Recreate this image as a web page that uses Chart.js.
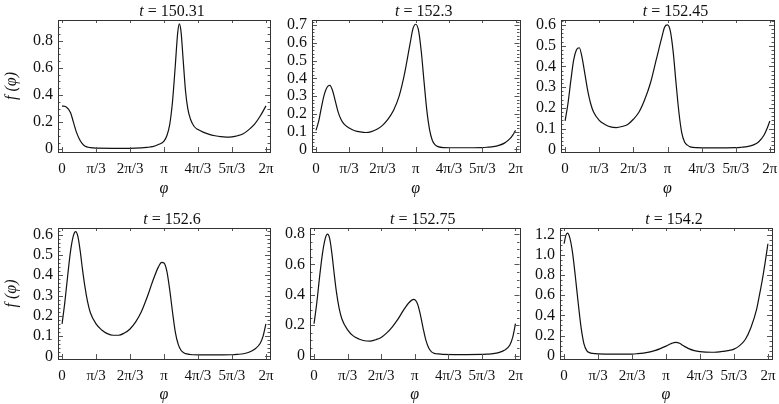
<!DOCTYPE html>
<html>
<head>
<meta charset="utf-8">
<script src="https://cdn.jsdelivr.net/npm/chart.js@4.4.1/dist/chart.umd.min.js"></script>
<style>
  body { margin: 0; background: #fff; }
  .panel { position: absolute; }
</style>
</head>
<body>
<div class="panel" style="left:0;top:0"><canvas id="p1" width="280" height="200"></canvas></div>
<div class="panel" style="left:272px;top:0"><canvas id="p2" width="258" height="200"></canvas></div>
<div class="panel" style="left:522px;top:0"><canvas id="p3" width="257" height="200"></canvas></div>
<div class="panel" style="left:0;top:200px"><canvas id="p4" width="280" height="204"></canvas></div>
<div class="panel" style="left:272px;top:200px"><canvas id="p5" width="258" height="204"></canvas></div>
<div class="panel" style="left:522px;top:200px"><canvas id="p6" width="257" height="204"></canvas></div>
<script>
// angle φ in degrees (0..360 = 0..2π)
const xTickValues = [0, 60, 120, 180, 240, 300, 360];
const xTickLabels = ['0', 'π/3', '2π/3', 'π', '4π/3', '5π/3', '2π'];

const times = ['150.31', '152.3', '152.45', '152.6', '152.75', '154.2'];

const phi1 = [0, 8, 15, 20, 25, 30, 35, 40, 50, 60, 90, 120, 140, 150, 160, 170, 180, 185, 190, 195, 200, 204, 207, 210, 214, 218, 222, 227, 233, 240, 250, 260, 270, 280, 290, 300, 310, 320, 330, 340, 350, 360];
const f1 = [0.32, 0.31, 0.27, 0.2, 0.13, 0.08, 0.045, 0.025, 0.012, 0.008, 0.007, 0.007, 0.01, 0.014, 0.02, 0.035, 0.06, 0.1, 0.18, 0.35, 0.62, 0.85, 0.925, 0.87, 0.65, 0.43, 0.3, 0.22, 0.17, 0.145, 0.125, 0.11, 0.1, 0.093, 0.09, 0.092, 0.1, 0.115, 0.145, 0.185, 0.245, 0.32];

const phi2 = [0, 5, 10, 15, 20, 25, 30, 35, 40, 45, 50, 60, 70, 80, 90, 100, 110, 120, 130, 140, 150, 160, 170, 175, 180, 185, 190, 195, 200, 205, 210, 215, 220, 230, 260, 300, 310, 320, 330, 340, 350, 355, 360];
const f2 = [0.107, 0.16, 0.24, 0.31, 0.35, 0.36, 0.33, 0.27, 0.21, 0.17, 0.145, 0.12, 0.105, 0.098, 0.095, 0.1, 0.113, 0.135, 0.17, 0.22, 0.3, 0.43, 0.6, 0.68, 0.705, 0.67, 0.55, 0.38, 0.22, 0.11, 0.05, 0.025, 0.015, 0.01, 0.009, 0.01, 0.012, 0.015, 0.022, 0.035, 0.06, 0.08, 0.107];

const phi3 = phi2;
const f3 = [0.137, 0.22, 0.33, 0.43, 0.48, 0.49, 0.44, 0.36, 0.28, 0.22, 0.18, 0.14, 0.12, 0.108, 0.105, 0.11, 0.12, 0.145, 0.18, 0.24, 0.32, 0.43, 0.54, 0.59, 0.6, 0.57, 0.47, 0.32, 0.18, 0.08, 0.035, 0.02, 0.012, 0.008, 0.007, 0.008, 0.01, 0.013, 0.02, 0.035, 0.07, 0.1, 0.137];

const phi4 = [0, 5, 10, 15, 20, 24, 28, 32, 36, 40, 45, 50, 60, 70, 80, 90, 100, 110, 120, 130, 140, 150, 160, 170, 176, 180, 185, 190, 195, 200, 205, 210, 215, 220, 230, 260, 300, 310, 320, 330, 340, 350, 355, 360];
const f4 = [0.16, 0.27, 0.4, 0.52, 0.595, 0.615, 0.59, 0.52, 0.43, 0.35, 0.27, 0.215, 0.16, 0.13, 0.112, 0.104, 0.104, 0.115, 0.135, 0.17, 0.22, 0.29, 0.37, 0.44, 0.463, 0.46, 0.42, 0.33, 0.22, 0.12, 0.06, 0.03, 0.018, 0.012, 0.008, 0.007, 0.008, 0.01, 0.013, 0.02, 0.035, 0.065, 0.1, 0.16];

const phi5 = [0, 5, 10, 15, 20, 24, 28, 32, 36, 40, 45, 50, 60, 70, 80, 90, 100, 110, 120, 130, 140, 150, 160, 170, 178, 185, 190, 195, 200, 205, 210, 215, 220, 230, 260, 300, 310, 320, 330, 340, 350, 355, 360];
const f5 = [0.21, 0.35, 0.52, 0.67, 0.77, 0.8, 0.77, 0.67, 0.54, 0.42, 0.31, 0.24, 0.17, 0.13, 0.11, 0.098, 0.095, 0.105, 0.12, 0.15, 0.19, 0.24, 0.3, 0.35, 0.37, 0.34, 0.27, 0.18, 0.1, 0.05, 0.025, 0.015, 0.012, 0.008, 0.007, 0.008, 0.01, 0.013, 0.02, 0.035, 0.07, 0.12, 0.21];

const phi6 = [0, 3, 6, 10, 15, 20, 25, 30, 35, 40, 45, 50, 60, 90, 120, 130, 140, 150, 160, 170, 180, 190, 197, 205, 210, 220, 230, 240, 250, 260, 270, 280, 290, 300, 310, 320, 330, 340, 345, 350, 355, 360];
const f6 = [1.11, 1.19, 1.215, 1.17, 1.02, 0.78, 0.52, 0.28, 0.12, 0.05, 0.03, 0.022, 0.017, 0.015, 0.016, 0.02, 0.026, 0.036, 0.05, 0.07, 0.095, 0.122, 0.132, 0.12, 0.1, 0.07, 0.05, 0.04, 0.035, 0.034, 0.036, 0.042, 0.05, 0.065, 0.1, 0.16, 0.28, 0.46, 0.6, 0.75, 0.92, 1.11];

const yTicks1 = [0, 0.2, 0.4, 0.6, 0.8];
const yTicks2 = [0, 0.1, 0.2, 0.3, 0.4, 0.5, 0.6, 0.7];
const yTicks3 = [0, 0.1, 0.2, 0.3, 0.4, 0.5, 0.6];
const yTicks4 = [0, 0.1, 0.2, 0.3, 0.4, 0.5, 0.6];
const yTicks5 = [0, 0.2, 0.4, 0.6, 0.8];
const yTicks6 = [0, 0.2, 0.4, 0.6, 0.8, 1.0, 1.2];

const SERIF = "'Liberation Serif', 'DejaVu Serif', serif";

// frame with inward ticks, like the original plots
const framePlugin = {
  id: 'frame',
  afterDatasetsDraw(chart) {
    const { ctx, chartArea: a, scales: { x, y } } = chart;
    const yt = chart.options.plugins.frame.yTicks;
    ctx.save();
    ctx.strokeStyle = '#555';
    ctx.lineWidth = 1;
    ctx.beginPath();
    const step = yt[1] - yt[0];
    const sub = Math.abs(step - 0.2) < 1e-6 ? 4 : 5;
    for (let v = 0; v <= y.max + 1e-9; v += step / sub) {
      const k = Math.round(v / (step / sub));
      const len = k % sub === 0 ? 5 : 2.5;
      const py = Math.round(y.getPixelForValue(v)) + 0.5;
      if (py < a.top || py > a.bottom) continue;
      ctx.moveTo(a.left, py); ctx.lineTo(a.left + len, py);
      ctx.moveTo(a.right, py); ctx.lineTo(a.right - len, py);
    }
    xTickValues.forEach((v) => {
      const px = Math.round(x.getPixelForValue(v)) + 0.5;
      ctx.moveTo(px, a.bottom); ctx.lineTo(px, a.bottom - 5);
      ctx.moveTo(px, a.top); ctx.lineTo(px, a.top + 3);
    });
    ctx.stroke();
    ctx.strokeStyle = '#333';
    ctx.strokeRect(Math.round(a.left) + 0.5, Math.round(a.top) + 0.5,
      Math.round(a.right - a.left), Math.round(a.bottom - a.top));
    ctx.restore();
  },
};

// "t = 150.31" label with italic t
const titlePlugin = {
  id: 'tlabel',
  afterDraw(chart) {
    const { ctx, chartArea: a } = chart;
    const txt = ' = ' + chart.options.plugins.tlabel.text;
    ctx.save();
    ctx.fillStyle = '#111';
    ctx.textBaseline = 'alphabetic';
    const fi = 'italic 16px ' + SERIF;
    const fn = '16px ' + SERIF;
    ctx.font = fi;
    const w1 = ctx.measureText('t').width;
    ctx.font = fn;
    const w2 = ctx.measureText(txt).width;
    const cx = (a.left + a.right) / 2 + 8;
    const x0 = cx - (w1 + w2) / 2;
    const by = a.top - 4.5;
    ctx.font = fi;
    ctx.fillText('t', x0, by);
    ctx.font = fn;
    ctx.fillText(txt, x0 + w1, by);
    ctx.restore();
  },
};

function makeChart(id, t, phi, f, yTicks, yMin, yMax, box) {
  const ctx = document.getElementById(id);
  return new Chart(ctx, {
    type: 'line',
    data: {
      datasets: [{
        data: phi.map((p, i) => ({ x: p, y: f[i] })),
        borderColor: '#111',
        borderWidth: 1.2,
        pointRadius: 0,
        cubicInterpolationMode: 'monotone',
        fill: false,
      }],
    },
    options: {
      responsive: false,
      animation: false,
      devicePixelRatio: 1,
      layout: { padding: { top: box.top, right: box.right, left: 0, bottom: 0 } },
      scales: {
        x: {
          type: 'linear',
          min: -7.2,
          max: 367.2,
          afterBuildTicks: (s) => { s.ticks = xTickValues.map((v) => ({ value: v })); },
          afterFit: (s) => {
            s.height = box.axisH;
            s.paddingLeft = 0;
            s.paddingRight = 0;
          },
          grid: { display: false, drawTicks: false },
          border: { display: false },
          ticks: {
            autoSkip: false,
            maxRotation: 0,
            padding: 8,
            color: '#111',
            font: { family: SERIF, size: 15 },
            callback: (v, i) => xTickLabels[i],
          },
          title: {
            display: true,
            text: 'φ',
            color: '#111',
            padding: { top: 0, bottom: box.xTitlePad },
            font: { family: SERIF, size: 16, style: 'italic' },
          },
        },
        y: {
          min: yMin,
          max: yMax,
          afterBuildTicks: (s) => { s.ticks = yTicks.map((v) => ({ value: v })); },
          afterFit: (s) => {
            s.width = box.axisW;
            s.paddingTop = 0;
            s.paddingBottom = 0;
          },
          grid: { display: false, drawTicks: false },
          border: { display: false },
          ticks: {
            autoSkip: false,
            padding: 5,
            color: '#111',
            font: { family: SERIF, size: 16 },
            callback: (v) => (v === 0 ? '0' : v.toFixed(1)),
          },
          title: {
            display: box.yTitle,
            text: 'f (φ)',
            color: '#111',
            padding: { top: 2, bottom: 0 },
            font: { family: SERIF, size: 16, style: 'italic' },
          },
        },
      },
      plugins: {
        legend: { display: false },
        tooltip: { enabled: false },
        frame: { yTicks },
        tlabel: { text: t },
      },
    },
    plugins: [framePlugin, titlePlugin],
  });
}

makeChart('p1', times[0], phi1, f1, yTicks1, -0.02, 0.953, { top: 20, right: 10, axisW: 58, axisH: 48, yTitle: true, xTitlePad: 2 });
makeChart('p2', times[1], phi2, f2, yTicks2, -0.015, 0.729, { top: 20, right: 10.5, axisW: 40, axisH: 48, yTitle: false, xTitlePad: 2 });
makeChart('p3', times[2], phi3, f3, yTicks3, -0.013, 0.624, { top: 20, right: 5, axisW: 39, axisH: 48, yTitle: false, xTitlePad: 2 });
makeChart('p4', times[3], phi4, f4, yTicks4, -0.013, 0.633, { top: 28, right: 10, axisW: 58, axisH: 45, yTitle: true, xTitlePad: 0 });
makeChart('p5', times[4], phi5, f5, yTicks5, -0.022, 0.84, { top: 28, right: 10.5, axisW: 38, axisH: 45, yTitle: false, xTitlePad: 0 });
makeChart('p6', times[5], phi6, f6, yTicks6, -0.033, 1.266, { top: 28, right: 7, axisW: 38, axisH: 45, yTitle: false, xTitlePad: 0 });
</script>
</body>
</html>
